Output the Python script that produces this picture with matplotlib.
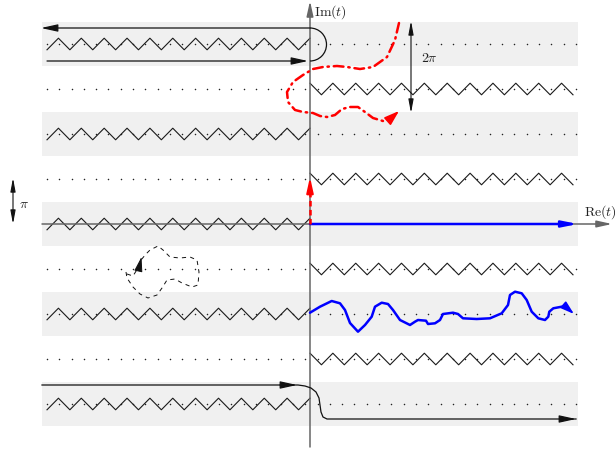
import numpy as np
import matplotlib
matplotlib.use("Agg")
import matplotlib.pyplot as plt
from matplotlib.patches import Arc, Rectangle

plt.rcParams['mathtext.fontset'] = 'cm'
plt.rcParams['lines.scale_dashes'] = False

# ---- data (pixel-space diagram coordinates) ----
row_y = [44, 89, 134, 179, 224, 269, 314, 359, 404]     # dotted rows (step = pi)
band_y = [44, 134, 224, 314, 404]                        # shaded strips
left_cut_y = [44, 134, 224, 314, 404]                    # branch cuts Re<0
right_cut_y = [89, 179, 269, 359]                        # branch cuts Re>0

red_x = [399, 395, 387, 373, 360, 347, 337, 323, 313, 303, 293, 287, 288, 295, 303,
         313, 320, 327, 335, 342, 350, 358, 365, 373, 383, 390, 399]
red_y = [23, 40, 57, 67, 69, 67, 66, 67, 69, 75, 82, 92, 102, 110, 112,
         113, 116, 117, 115, 109, 107, 107, 112, 118, 121, 119, 111]

blue_x = [310, 320, 331.7, 340, 345, 350, 358, 365, 371.7, 375, 381.7, 388, 393, 400, 410,
          415, 418, 426, 428, 435, 440, 443, 453, 458, 463, 476.7, 490, 501.7, 508, 510,
          515, 521.7, 526.7, 531.7, 538.3, 545, 548.3, 549.3, 553.3, 561.7, 566.7, 574]
blue_y = [312.7, 306.7, 301, 303.3, 310, 323, 331.7, 325, 316.7, 306.7, 302.7, 304, 310, 320, 325,
          321.7, 320, 320.7, 324, 323.3, 320, 314, 312.7, 314, 318.3, 319, 318.3, 313.3, 305, 295,
          291.7, 293.3, 300, 311.7, 318.3, 320, 316.7, 311.7, 308.3, 306.7, 307.7, 314]

loop_x = [127, 133, 138, 141, 146, 150, 158, 163, 170, 180, 190, 197, 199, 198, 192,
          182, 175, 167, 162, 157, 148, 140, 133, 127, 126]
loop_y = [274, 276, 268, 260, 254, 250, 246, 250, 257, 258, 257, 260, 272, 285, 287,
          283, 279, 280, 288, 295, 298, 294, 287, 278, 272]

bot_x = [42, 298, 305, 311, 316, 319, 320, 321, 323, 327, 576]
bot_y = [385, 385, 386, 388, 392, 398, 405, 412, 417, 419, 419]

W, H = 616, 454
fig = plt.figure(figsize=(W / 100, H / 100), dpi=100)
ax = fig.add_axes([0, 0, 1, 1])
ax.set_xlim(0, W)
ax.set_ylim(H, 0)
ax.axis('off')

X0, XA, X1 = 42, 310, 578
gray = '#666666'
ink = '#111111'

def arrow(tail, tip, color, lw, hl=1.0, hw=0.22, style='-|>', z=4):
    ax.annotate('', xy=tip, xytext=tail,
                arrowprops=dict(arrowstyle=f'{style},head_length={hl},head_width={hw}',
                                color=color, lw=lw, shrinkA=0, shrinkB=0), zorder=z)

# shaded strips
for yc in band_y:
    ax.add_patch(Rectangle((X0, yc - 22), X1 - X0, 44, color='#f0f0f0', lw=0, zorder=0))

# dotted rows
dx = np.arange(47, X1, 12.3)
for yc in row_y:
    if yc == 224:
        continue
    ax.plot(dx, np.full_like(dx, yc), 'o', ms=1.1, mec='none', mfc='#222222', zorder=1)

# zigzag branch cuts
def zigzag(xa, xb, yc, start_up, n=23, amp=5.8):
    xs = np.linspace(xa, xb, n + 1)
    sgn = np.array([(-1) ** k for k in range(n + 1)])
    ys = yc + amp * (sgn if not start_up else -sgn)
    ax.plot(xs, ys, color='#1a1a1a', lw=0.8, zorder=2)

for yc in left_cut_y:
    zigzag(47, XA, yc, start_up=False)
for yc in right_cut_y:
    zigzag(XA, 573, yc, start_up=True)

# axes
arrow((X0, 224), (612, 224), gray, 1.1, hl=0.9, hw=0.2, z=3)
arrow((XA, 447), (XA, 1), gray, 1.1, hl=0.9, hw=0.2, z=3)
ax.text(314, 12, r'$\mathrm{Im}(t)$', fontsize=10, va='center', ha='left', color='#222222')
ax.text(584, 212, r'$\mathrm{Re}(t)$', fontsize=10, va='center', ha='left', color='#222222')

# 2pi and pi scale arrows
arrow((411, 113), (411, 21), ink, 0.8, hl=0.8, hw=0.15, style='<|-|>')
ax.text(421, 58, r'$2\pi$', fontsize=10, va='center', ha='left', color='#222222')
arrow((13, 224), (13, 178), ink, 0.8, hl=0.8, hw=0.15, style='<|-|>')
ax.text(19, 204, r'$\pi$', fontsize=10, va='center', ha='left', color='#222222')

# top hairpin contour
arrow((XA, 28), (41, 28), ink, 0.9)
arrow((47, 61), (308, 61), ink, 0.9)
ax.add_patch(Arc((XA, 44.5), 33, 33, theta1=-90, theta2=90, color=ink, lw=0.9, zorder=4))

# bottom contour
ax.plot(bot_x, bot_y, color=ink, lw=0.9, zorder=4, solid_joinstyle='round')
arrow((280, 385), (297, 385), ink, 0.9)
arrow((560, 419), (576, 419), ink, 0.9)

# blue ray along positive real axis
arrow((XA, 224), (578, 224), '#0000ff', 1.8, hl=0.9, hw=0.18, z=5)

# red dashed vertical
ax.plot([XA, XA], [224, 190], color='#ff0000', lw=1.8, ls=(0, (4, 2.5)), zorder=6)
arrow((XA, 192), (XA, 177), '#ff0000', 1.5, hl=0.9, hw=0.2, z=6)

# red dash-dot curve
ax.plot(red_x[:-1], red_y[:-1], color='#ff0000', lw=1.8, ls=(0, (7, 3.5, 1, 3.5)), zorder=6,
        dash_capstyle='round')
arrow((red_x[-2], red_y[-2]), (red_x[-1], red_y[-1]), '#ff0000', 1.2, hl=0.9, hw=0.3, z=6)

# blue wiggly path
ax.plot(blue_x[:-1], blue_y[:-1], color='#0000ff', lw=1.8, zorder=6, solid_joinstyle='round',
        solid_capstyle='round')
arrow((blue_x[-2], blue_y[-2]), (blue_x[-1], blue_y[-1]), '#0000ff', 1.2, hl=0.8, hw=0.25, z=6)

# dashed black loop with mid arrow
ax.plot(loop_x, loop_y, color=ink, lw=0.7, ls=(0, (3, 3)), zorder=6)
arrow((139.5, 266), (141.5, 257), ink, 0.7, hl=0.9, hw=0.25, z=6)

fig.savefig('out.png', dpi=100)
